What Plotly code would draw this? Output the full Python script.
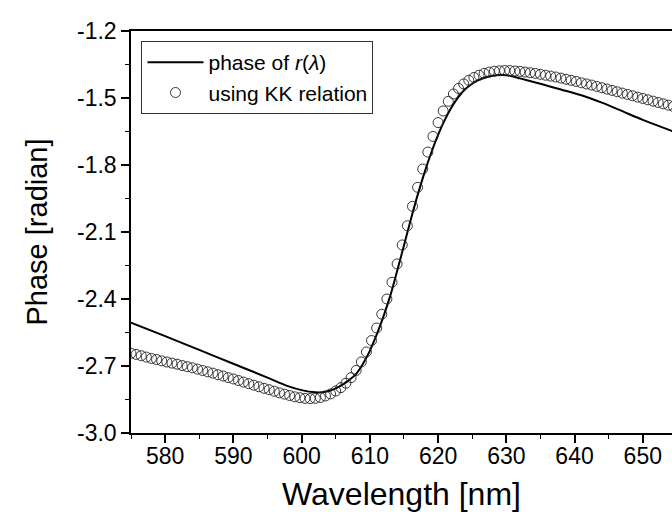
import plotly.graph_objects as go

# phase of r(lambda) – solid line
line_wl = [575, 580, 585, 590, 595, 598, 600, 602, 603, 604, 605, 606, 607, 608,
           609, 610, 611, 612, 613, 614, 615, 616, 617, 618, 619, 620, 621, 622,
           623, 624, 625, 626, 627, 628, 629, 630, 631, 632, 634, 636, 638, 641,
           644, 647, 650, 654.5]
line_phase = [-2.506, -2.566, -2.628, -2.690, -2.752, -2.790, -2.808, -2.818, -2.818,
              -2.812, -2.800, -2.783, -2.762, -2.735, -2.690, -2.632, -2.560, -2.478,
              -2.385, -2.275, -2.160, -2.045, -1.935, -1.835, -1.745, -1.665, -1.597,
              -1.540, -1.495, -1.460, -1.436, -1.419, -1.407, -1.400, -1.397, -1.398,
              -1.404, -1.412, -1.428, -1.445, -1.462, -1.488, -1.521, -1.559, -1.598,
              -1.650]

# using KK relation – open circles
kk_wl = [575.00, 575.75, 576.50, 577.25, 578.00, 578.75, 579.50, 580.25, 581.00, 581.75,
         582.50, 583.25, 584.00, 584.75, 585.50, 586.25, 587.00, 587.75, 588.50, 589.25,
         590.00, 590.75, 591.50, 592.25, 593.00, 593.75, 594.50, 595.25, 596.00, 596.75,
         597.50, 598.25, 599.00, 599.75, 600.50, 601.25, 602.00, 602.75, 603.50, 604.25,
         605.00, 605.75, 606.50, 607.25, 608.00, 608.75, 609.50, 610.25, 611.00, 611.75,
         612.50, 613.25, 614.00, 614.75, 615.50, 616.25, 617.00, 617.75, 618.50, 619.25,
         620.00, 620.75, 621.50, 622.25, 623.00, 623.75, 624.50, 625.25, 626.00, 626.75,
         627.50, 628.25, 629.00, 629.75, 630.50, 631.25, 632.00, 632.75, 633.50, 634.25,
         635.00, 635.75, 636.50, 637.25, 638.00, 638.75, 639.50, 640.25, 641.00, 641.75,
         642.50, 643.25, 644.00, 644.75, 645.50, 646.25, 647.00, 647.75, 648.50, 649.25,
         650.00, 650.75, 651.50, 652.25, 653.00, 653.75, 654.50]
kk_phase = [-2.643, -2.648, -2.654, -2.660, -2.666, -2.671, -2.677, -2.682, -2.687, -2.692,
            -2.698, -2.703, -2.708, -2.714, -2.720, -2.726, -2.732, -2.739, -2.745, -2.752,
            -2.758, -2.765, -2.772, -2.779, -2.786, -2.793, -2.800, -2.806, -2.813, -2.820,
            -2.826, -2.832, -2.838, -2.842, -2.845, -2.846, -2.845, -2.841, -2.834, -2.825,
            -2.812, -2.797, -2.777, -2.752, -2.720, -2.682, -2.637, -2.586, -2.530, -2.468,
            -2.400, -2.325, -2.243, -2.158, -2.072, -1.985, -1.900, -1.818, -1.742, -1.672,
            -1.610, -1.558, -1.515, -1.482, -1.457, -1.437, -1.421, -1.408, -1.398, -1.390,
            -1.384, -1.380, -1.378, -1.377, -1.377, -1.379, -1.381, -1.384, -1.387, -1.390,
            -1.394, -1.398, -1.402, -1.406, -1.411, -1.416, -1.421, -1.426, -1.432, -1.437,
            -1.442, -1.448, -1.454, -1.460, -1.466, -1.472, -1.478, -1.484, -1.490, -1.496,
            -1.502, -1.508, -1.514, -1.520, -1.526, -1.532, -1.538]

x_ticks = [580, 590, 600, 610, 620, 630, 640, 650]
y_ticks = [-3.0, -2.7, -2.4, -2.1, -1.8, -1.5, -1.2]
y_tick_text = ["-3.0", "-2.7", "-2.4", "-2.1", "-1.8", "-1.5", "-1.2"]

FONT = "Liberation Sans, Arial, sans-serif"

fig = go.Figure()
fig.add_trace(go.Scatter(
    x=line_wl, y=line_phase, mode="lines", line_shape="spline",
    line=dict(color="black", width=2),
    name="phase of <i>r</i>(<i>λ</i>)"))
fig.add_trace(go.Scatter(
    x=kk_wl, y=kk_phase, mode="markers",
    marker=dict(symbol="circle-open", size=10, color="#222", line=dict(width=0.9, color="#222")),
    name="using KK relation"))

fig.update_layout(
    width=672, height=515,
    margin=dict(l=130.5, r=0, t=31, b=82),
    paper_bgcolor="white", plot_bgcolor="white",
    font=dict(family=FONT, color="black", size=23),
    showlegend=True,
    legend=dict(x=0.0194, y=0.975, xanchor="left", yanchor="top",
                bordercolor="#333", borderwidth=1, bgcolor="white",
                font=dict(family=FONT, size=21, color="black"),
                tracegroupgap=0, itemwidth=56),
    xaxis=dict(range=[575, 654.28], tickmode="array", tickvals=x_ticks,
               ticks="outside", ticklen=8, tickwidth=1.5, tickcolor="black",
               showline=True, linecolor="black", linewidth=1.5, mirror=True,
               showgrid=False, zeroline=False, ticklabelstandoff=-6,
               tickfont=dict(size=23, family=FONT),
               minor=dict(dtick=5, tick0=575, ticks="outside", ticklen=4, tickwidth=1.2, tickcolor="black", showgrid=False),
               title=dict(text="Wavelength [nm]", font=dict(size=32, family=FONT), standoff=14)),
    yaxis=dict(range=[-3.0, -1.2], tickmode="array", tickvals=y_ticks, ticktext=y_tick_text,
               ticks="outside", ticklen=8, tickwidth=1.5, tickcolor="black",
               showline=True, linecolor="black", linewidth=1.5, mirror=False,
               showgrid=False, zeroline=False,
               tickfont=dict(size=23, family=FONT),
               minor=dict(dtick=0.15, tick0=-3.0, ticks="outside", ticklen=4, tickwidth=1.2, tickcolor="black", showgrid=False),
               title=dict(text="Phase [radian]", font=dict(size=29, family=FONT), standoff=21)),
)

fig.write_html("out.html", config={"displayModeBar": False},
               post_script="document.body.style.margin='0';document.body.style.overflow='hidden';")
